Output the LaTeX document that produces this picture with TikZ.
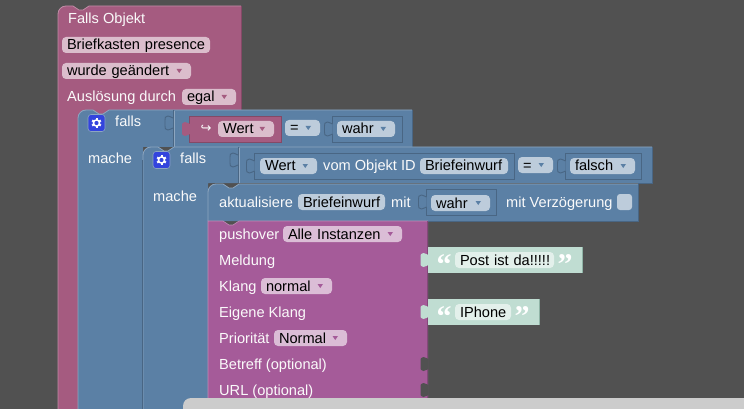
\documentclass[tikz,border=0pt]{standalone}
\usepackage{fontspec}
\setmainfont{Liberation Sans}
\newfontfamily\quotefont{Liberation Serif}
\definecolor{bgc}{HTML}{515151}
\definecolor{pinkb}{HTML}{A55B80}
\definecolor{pinkl}{HTML}{C08DA6}
\definecolor{pinkd}{HTML}{844966}
\definecolor{pinkf}{HTML}{DBBDCC}
\definecolor{blueb}{HTML}{5B80A5}
\definecolor{bluel}{HTML}{8DA6C0}
\definecolor{blued}{HTML}{496684}
\definecolor{bluef}{HTML}{BDCCDB}
\definecolor{purpb}{HTML}{A55B99}
\definecolor{purpl}{HTML}{C08DB7}
\definecolor{purpd}{HTML}{84497A}
\definecolor{purpf}{HTML}{DBBDD6}
\definecolor{mintb}{HTML}{C0DDD2}
\definecolor{mintd}{HTML}{8FB3A6}
\definecolor{mintf}{HTML}{E3F0EB}
\definecolor{gearb}{HTML}{3344DD}
\definecolor{panel}{HTML}{CCCCCC}
\definecolor{lbl}{HTML}{FAFAFA}
\tikzset{
  x=1pt,y=-1pt,
  blockfont/.style={font=\fontsize{14.6}{17}\selectfont},
  lab/.style={blockfont,text=lbl,anchor=base west,inner sep=0pt},
  pillbox/.style={blockfont,text=black,rectangle,rounded corners=4pt,inner xsep=5pt,inner ysep=0pt,
     text height=13pt,text depth=3pt,align=left},
  quote/.style={font=\quotefont\bfseries\fontsize{30}{30}\selectfont,text=white,anchor=base,inner sep=0pt},
  gearbox/.style={rectangle,rounded corners=3pt,fill=gearb,draw=bluel,line width=.6pt,minimum size=17pt,inner sep=0pt},
  valbox/.style={rectangle,draw=blued,line width=.8pt,fill=blueb,inner sep=0pt},
}
\newcommand\lbl[4]{\node[lab] (#1) at (#2,#3+5) {#4};}
\newcommand\pill[6][]{%
  \pgfmathsetmacro\pw{#4-#2-10}\pgfmathsetmacro\pc{(#2+#4)/2}%
  \node[pillbox,fill=#5,text width=\pw pt] at (\pc,#3+8) {\mbox{#6}};%
  \def\tmparrow{#1}\ifx\tmparrow\empty\else
    \fill[#1] (#4-14.5,#3+6) -- (#4-9,#3+6) -- (#4-11.75,#3+10) -- cycle;\fi}
% puzzle tab pointing left from x at centre y
\newcommand\puzpath[2]{(#1,#2-5) .. controls (#1-2,#2-5) and (#1-2,#2-7) .. (#1-5,#2-7) .. controls (#1-8,#2-7) and (#1-8,#2-5) .. (#1-8,#2-3) -- (#1-8,#2+3) .. controls (#1-8,#2+5) and (#1-8,#2+7) .. (#1-5,#2+7) .. controls (#1-2,#2+7) and (#1-2,#2+5) .. (#1,#2+5)}
\newcommand\puz[3]{\fill[#3] \puzpath{#1}{#2} -- cycle;}
\newcommand\sock[2]{\fill[blueb] \puzpath{#1}{#2} -- cycle; \draw[blued,line width=.9pt] \puzpath{#1}{#2};}
\newcommand\gearicon[3]{%
  \node[gearbox] (#1) at (#2,#3) {};
  \foreach \a in {30,90,150,210,270,330}{\draw[white,line width=2pt] (#2,#3) -- ++(\a:5);}
  \fill[white] (#2,#3) circle (3.9);
  \fill[gearb] (#2,#3) circle (2.1);}
\begin{document}
\begin{tikzpicture}
\useasboundingbox (0,0) rectangle (744,409);
\fill[bgc] (0,0) rectangle (744,409);
% pink event block
\fill[pinkb] (58,409) -- (58,14) arc[start angle=180,end angle=270,radius=8] -- (73,6) -- (79,10) -- (83,10) -- (89,6) -- (241,6) -- (241,118) -- (78,118) -- (78,409) -- cycle;
\draw[pinkl,line width=.8pt] (58,409) -- (58,14) arc[start angle=180,end angle=270,radius=8] -- (73,6) -- (79,10) -- (83,10) -- (89,6) -- (241,6);
\draw[pinkd,line width=.8pt] (241,6) -- (241,110);
\lbl{fallsobj}{68}{19}{Falls Objekt}
\pill{62}{37}{210}{pinkf}{Briefkasten presence}
\pill[pinkb]{62}{63}{191}{pinkf}{wurde geändert}
\lbl{ausl}{67}{97}{Auslösung durch}
\pill[pinkb]{182}{89}{236}{pinkf}{egal}
% outer blue if block
\fill[blueb] (78,409) -- (78,118) arc[start angle=180,end angle=270,radius=8] -- (93,110) -- (99,114) -- (103,114) -- (109,110) -- (412,110) -- (412,147) -- (143,147) -- (143,409) -- cycle;
\draw[bluel,line width=.8pt] (78,409) -- (78,118) arc[start angle=180,end angle=270,radius=8] -- (93,110) -- (99,114) -- (103,114) -- (109,110) -- (412,110);
\draw[blued,line width=.8pt] (412,110) -- (412,147) -- (238,147);
\draw[blued,line width=.8pt] (173,110) -- (173,147);
\draw[bluel,line width=.6pt] (174,111) -- (174,147);
\sock{173}{123}
% inner blue if block
\fill[blueb] (143,409) -- (143,155) arc[start angle=180,end angle=270,radius=8] -- (158,147) -- (164,151) -- (168,151) -- (174,147) -- (652,147) -- (652,183) -- (208,183) -- (208,409) -- cycle;
\draw[bluel,line width=.8pt] (143,409) -- (143,155) arc[start angle=180,end angle=270,radius=8] -- (158,147) -- (164,151) -- (168,151) -- (174,147) -- (652,147);
\draw[blued,line width=.8pt] (142.2,160) -- (142.2,409);
\draw[blued,line width=.8pt] (652,147) -- (652,183.5) -- (638,183.5);
\draw[blued,line width=.8pt] (238,147) -- (238,183);
\draw[bluel,line width=.6pt] (239,148) -- (239,183);
\sock{238}{160}
% action block
\fill[blueb] (208,221) -- (208,192) arc[start angle=180,end angle=270,radius=8] -- (223,184) -- (229,188) -- (233,188) -- (239,184) -- (638,184) -- (638,221) -- cycle;
\draw[bluel,line width=.8pt] (208,221) -- (208,192) arc[start angle=180,end angle=270,radius=8] -- (223,184) -- (229,188) -- (233,188) -- (239,184) -- (638,184);
\draw[blued,line width=.8pt] (638,184) -- (638,221) -- (428,221);
% purple block
\fill[purpb] (208,409) -- (208,221) -- (223,221) -- (229,225) -- (233,225) -- (239,221) -- (428,221) -- (428,409) -- cycle;
\draw[purpl,line width=.6pt] (208,409) -- (208,221) -- (223,221) -- (229,225) -- (233,225) -- (239,221) -- (428,221);
\draw[purpd,line width=.8pt] (427.6,221) -- (427.6,409);
\puz{428.5}{364}{bgc}
\puz{428.5}{390}{bgc}
% row 1 contents
\lbl{falls1}{115}{122}{falls}
\gearicon{gear1}{96.5}{123}
\lbl{mache1}{88}{159}{mache}
\node[rectangle,fill=pinkb,draw=pinkd,line width=.8pt,minimum width=92pt,minimum height=26pt,inner sep=0pt] (wertblock) at (235,129) {};
\puz{190}{129}{pinkb}
\node[text=lbl,inner sep=0pt] (hook) at (206,129) {\fontspec{DejaVu Sans}\fontsize{13}{15}\selectfont ↪};
\pill[pinkb]{218}{121}{274}{pinkf}{Wert}
\pill[blueb]{285}{120}{320}{bluef}{=}
\node[valbox,minimum width=70pt,minimum height=26pt] (wahrblock) at (367,129) {};
\sock{332.5}{129}
\pill[blueb]{337}{121}{395}{bluef}{wahr}
% row 2 contents
\lbl{falls2}{180}{159}{falls}
\gearicon{gear2}{161.5}{160}
\lbl{mache2}{153}{196}{mache}
\node[valbox,minimum width=260pt,minimum height=26pt] (wertobj) at (384,166) {};
\sock{254.5}{166}
\pill[blueb]{260}{158}{317}{bluef}{Wert}
\lbl{vom}{323}{166}{vom Objekt ID}
\pill{420}{158}{508}{bluef}{Briefeinwurf}
\pill[blueb]{518}{157}{553}{bluef}{=}
\node[valbox,minimum width=76pt,minimum height=26pt] (falschblock) at (603,166) {};
\sock{565.5}{166}
\pill[blueb]{570}{158}{635}{bluef}{falsch}
% row 3 contents
\lbl{akt}{219}{202}{aktualisiere}
\pill{298}{194}{385}{bluef}{Briefeinwurf}
\lbl{mit}{391}{202}{mit}
\node[valbox,minimum width=70pt,minimum height=26pt] (wahrblockb) at (461,202) {};
\sock{426.5}{202}
\pill[blueb]{431}{195}{490}{bluef}{wahr}
\lbl{verz}{506}{202}{mit Verzögerung}
\node[rectangle,rounded corners=3pt,fill=bluef,minimum width=15pt,minimum height=16pt,inner sep=0pt] (check) at (624.5,202) {};
% purple contents
\lbl{pushover}{219}{234}{pushover}
\pill[purpb]{283}{226}{402}{purpf}{Alle Instanzen}
\lbl{meldung}{219}{260}{Meldung}
\lbl{klang}{219}{286}{Klang}
\pill[purpb]{261}{278}{332}{purpf}{normal}
\lbl{eigene}{219}{312}{Eigene Klang}
\lbl{prio}{219}{338}{Priorität}
\pill[purpb]{274}{330}{347}{purpf}{Normal}
\lbl{betreff}{219}{364}{Betreff (optional)}
\lbl{url}{219}{390}{URL (optional)}
% text blocks
\node[rectangle,fill=mintb,minimum width=154pt,minimum height=26pt,inner sep=0pt] (postblock) at (505,260) {};
\draw[mintd,line width=.8pt] (582,247) -- (582,273);
\puz{428.5}{260}{mintb}
\node[quote] (q1) at (444,274) {“};
\pill{455}{252}{554}{mintf}{Post ist da!!!!!}
\node[quote] (q2) at (565,274) {”};
\node[rectangle,fill=mintb,minimum width=111pt,minimum height=26pt,inner sep=0pt] (iphoneblock) at (483.5,312) {};
\draw[mintd,line width=.8pt] (539,299) -- (539,325);
\puz{428.5}{312}{mintb}
\node[quote] (q3) at (444,326) {“};
\pill{455}{304}{511}{mintf}{IPhone}
\node[quote] (q4) at (522,326) {”};
% grey panel
\fill[panel] (183,420) -- (183,406) arc[start angle=180,end angle=270,radius=8] -- (750,398) -- (750,420) -- cycle;
\end{tikzpicture}
\end{document}
